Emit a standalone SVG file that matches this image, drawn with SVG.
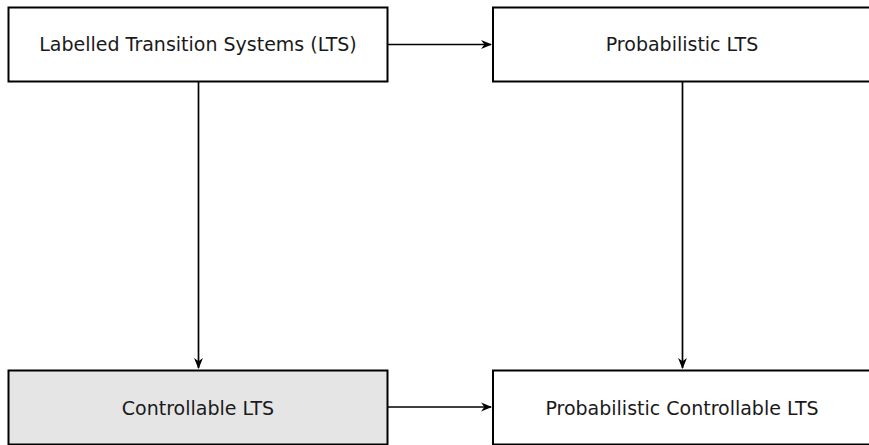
<svg xmlns="http://www.w3.org/2000/svg" width="869" height="445" viewBox="0 0 869 445">
<style>
.box{fill:#ffffff;stroke:#000;stroke-width:2}
.gray{fill:#e5e5e5}
.lbl{font-family:"DejaVu Sans","Liberation Sans",sans-serif;font-size:19px;fill:#1a1a1a;text-anchor:middle}
.edge{stroke:#000;stroke-width:1.7;fill:none}
</style>
<defs>
<marker id="arr" viewBox="0 0 10 10" refX="9" refY="5" markerWidth="6.5" markerHeight="6.5" markerUnits="strokeWidth" orient="auto">
<path d="M0,1 L10,5 L0,9 L3,5 Z" fill="#000"/>
</marker>
</defs>
<rect width="869" height="445" fill="#fff"/>
<g id="edges">
<line class="edge" x1="388" y1="44.5" x2="491" y2="44.5" marker-end="url(#arr)"/>
<line class="edge" x1="198.5" y1="82" x2="198.5" y2="368" marker-end="url(#arr)"/>
<line class="edge" x1="682.5" y1="82" x2="682.5" y2="368" marker-end="url(#arr)"/>
<line class="edge" x1="388" y1="407" x2="491" y2="407" marker-end="url(#arr)"/>
</g>
<g id="lts">
<rect class="box" x="8.5" y="7.5" width="379" height="74"/>
<text class="lbl" x="198" y="51">Labelled Transition Systems (LTS)</text>
</g>
<g id="plts">
<rect class="box" x="493" y="7.5" width="379" height="74"/>
<text class="lbl" x="682" y="51">Probabilistic LTS</text>
</g>
<g id="clts">
<rect class="box gray" x="8.5" y="370.5" width="379" height="74"/>
<text class="lbl" x="198" y="415">Controllable LTS</text>
</g>
<g id="pclts">
<rect class="box" x="493" y="370.5" width="379" height="74"/>
<text class="lbl" x="682" y="415">Probabilistic Controllable LTS</text>
</g>
</svg>
